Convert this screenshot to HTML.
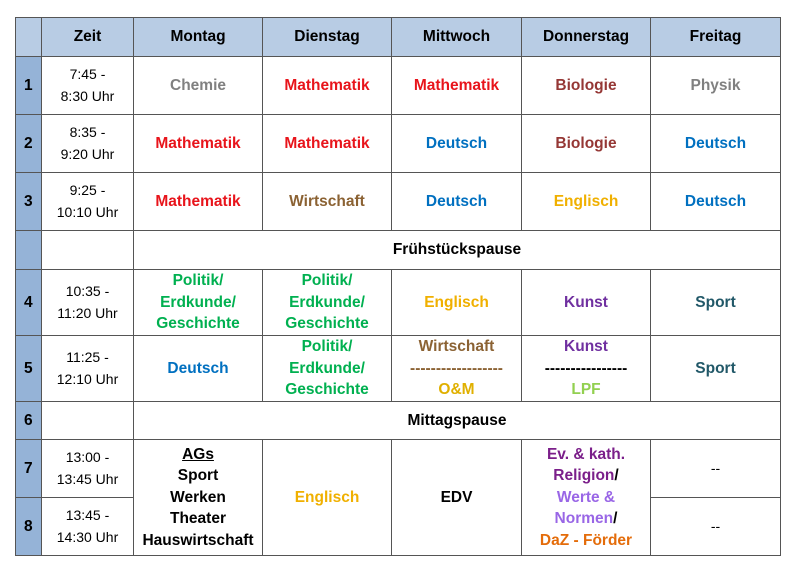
<!DOCTYPE html>
<html><head><meta charset="utf-8"><style>
body{margin:0;width:800px;height:572px;background:#fff;position:relative;overflow:hidden;font-family:"Liberation Sans",sans-serif;}
.c{position:absolute;box-sizing:border-box;border:1px solid #555;display:flex;align-items:center;justify-content:center;text-align:center;font-size:15.5px;font-weight:bold;line-height:21.5px;color:#000;margin-left:-1px;margin-top:-1px;white-space:nowrap;}
.h{background:#b8cce4;}
.n{background:#95b3d7;justify-content:flex-start;padding-left:8px;}
.t{font-weight:normal;font-size:14px;}
</style></head><body>
<div id="g"></div>
<script>
var X=[16,42,134,263,392,522,651,781];
var Y=[18,57,115,173,231,270,336,402,440,498,556];
var g=document.getElementById('g'),h='';
function cell(c0,c1,r0,r1,html,cls){h+='<div class="c '+(cls||'')+'" style="left:'+X[c0]+'px;top:'+Y[r0]+'px;width:'+(X[c1]-X[c0]+1)+'px;height:'+(Y[r1]-Y[r0]+1)+'px">'+(html?'<div>'+html+'</div>':'')+'</div>';}
function s(t,c){return '<span style="color:'+c+'">'+t+'</span>';}
var gr='#808080',re='#e8141b',bi='#953735',de='#0070c0',wi='#8b6233',en='#f0b000',po='#00b050',ku='#7030a0',sp='#215868';
var pol=s('Politik/<br>Erdkunde/<br>Geschichte',po);
cell(0,1,0,1,'','h');cell(1,2,0,1,'Zeit','h');cell(2,3,0,1,'Montag','h');cell(3,4,0,1,'Dienstag','h');cell(4,5,0,1,'Mittwoch','h');cell(5,6,0,1,'Donnerstag','h');cell(6,7,0,1,'Freitag','h');
cell(0,1,1,2,'1','n');cell(1,2,1,2,'7:45 -<br>8:30 Uhr','t');cell(2,3,1,2,s('Chemie',gr));cell(3,4,1,2,s('Mathematik',re));cell(4,5,1,2,s('Mathematik',re));cell(5,6,1,2,s('Biologie',bi));cell(6,7,1,2,s('Physik',gr));
cell(0,1,2,3,'2','n');cell(1,2,2,3,'8:35 -<br>9:20 Uhr','t');cell(2,3,2,3,s('Mathematik',re));cell(3,4,2,3,s('Mathematik',re));cell(4,5,2,3,s('Deutsch',de));cell(5,6,2,3,s('Biologie',bi));cell(6,7,2,3,s('Deutsch',de));
cell(0,1,3,4,'3','n');cell(1,2,3,4,'9:25 -<br>10:10 Uhr','t');cell(2,3,3,4,s('Mathematik',re));cell(3,4,3,4,s('Wirtschaft',wi));cell(4,5,3,4,s('Deutsch',de));cell(5,6,3,4,s('Englisch',en));cell(6,7,3,4,s('Deutsch',de));
cell(0,1,4,5,'','n');cell(1,2,4,5,'');cell(2,7,4,5,'Frühstückspause');
cell(0,1,5,6,'4','n');cell(1,2,5,6,'10:35 -<br>11:20 Uhr','t');cell(2,3,5,6,pol);cell(3,4,5,6,pol);cell(4,5,5,6,s('Englisch',en));cell(5,6,5,6,s('Kunst',ku));cell(6,7,5,6,s('Sport',sp));
cell(0,1,6,7,'5','n');cell(1,2,6,7,'11:25 -<br>12:10 Uhr','t');cell(2,3,6,7,s('Deutsch',de));cell(3,4,6,7,pol);cell(4,5,6,7,s('Wirtschaft<br>------------------',wi)+'<br><span style="color:#e0b000">O&amp;M</span>');cell(5,6,6,7,s('Kunst',ku)+'<br>----------------<br>'+s('LPF','#92d050'));cell(6,7,6,7,s('Sport',sp));
cell(0,1,7,8,'6','n');cell(1,2,7,8,'');cell(2,7,7,8,'Mittagspause');
cell(0,1,8,9,'7','n');cell(1,2,8,9,'13:00 -<br>13:45 Uhr','t');cell(0,1,9,10,'8','n');cell(1,2,9,10,'13:45 -<br>14:30 Uhr','t');
cell(2,3,8,10,'<u>AGs</u><br>Sport<br>Werken<br>Theater<br>Hauswirtschaft');cell(3,4,8,10,s('Englisch',en));cell(4,5,8,10,'EDV');
cell(5,6,8,10,s('Ev. &amp; kath.<br>Religion','#7b1f8a')+'/<br>'+s('Werte &amp;<br>Normen','#9966e6')+'/<br>'+s('DaZ - Förder','#e46c0a'));
cell(6,7,8,9,'--','t');cell(6,7,9,10,'--','t');
g.innerHTML=h;
</script>
</body></html>
